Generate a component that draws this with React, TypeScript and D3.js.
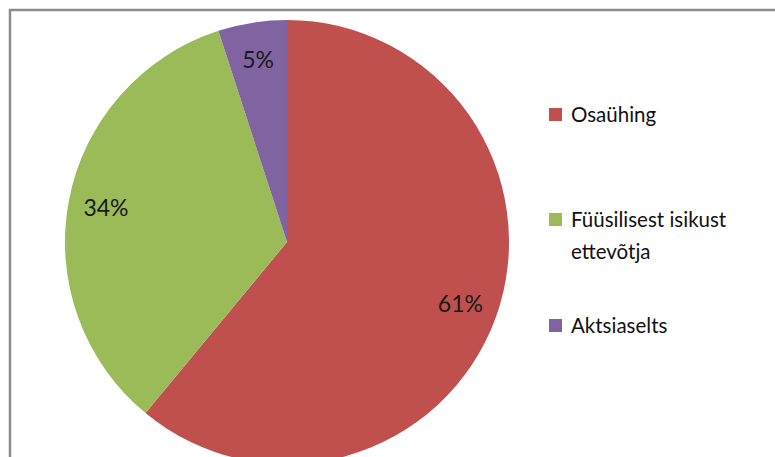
import React, { useEffect, useRef } from "react";
import * as d3 from "d3";

// data
const categories = ["Osaühing", "Füüsilisest isikust ettevõtja", "Aktsiaselts"];
const legendLines = [["Osaühing"], ["Füüsilisest isikust", "ettevõtja"], ["Aktsiaselts"]];
const values = [61, 34, 5];
const colors = ["#C0504D", "#9BBB59", "#8064A2"];

const W = 775;
const H = 457;

export default function App() {
  const ref = useRef<SVGSVGElement>(null);

  useEffect(() => {
    const svg = d3.select(ref.current);
    svg.selectAll("*").remove();

    // chart frame, right and bottom edges fall outside the picture
    svg.append("rect")
      .attr("x", 10).attr("y", 10)
      .attr("width", 900).attr("height", 600)
      .attr("fill", "#fff")
      .attr("stroke", "#8c8c8c")
      .attr("stroke-width", 2.5);

    const cx = 287, cy = 242, r = 222;
    const total = d3.sum(values);
    const pie = d3.pie<number>().sort(null).value(d => d);
    const arcs = pie(values);
    const arc = d3.arc<d3.PieArcDatum<number>>().innerRadius(0).outerRadius(r);
    const labelArc = d3.arc<d3.PieArcDatum<number>>().innerRadius(r * 0.83).outerRadius(r * 0.83);

    const g = svg.append("g").attr("transform", `translate(${cx},${cy})`);
    g.selectAll("path")
      .data(arcs)
      .enter()
      .append("path")
      .attr("d", arc)
      .attr("fill", (d, i) => colors[i]);

    g.selectAll("text")
      .data(arcs)
      .enter()
      .append("text")
      .attr("transform", d => {
        const [x, y] = labelArc.centroid(d);
        return `translate(${x},${y})`;
      })
      .attr("text-anchor", "middle")
      .attr("dy", "0.35em")
      .attr("font-family", "Lato, 'Open Sans', sans-serif")
      .attr("font-size", 23)
      .attr("fill", "#1a1a1a")
      .text(d => Math.round((d.data / total) * 100) + "%");

    // legend
    const legendY = [115, 220, 326];
    const leg = svg.append("g").attr("font-family", "Lato, 'Open Sans', sans-serif");
    categories.forEach((c, i) => {
      const item = leg.append("g").attr("transform", `translate(549,${legendY[i]})`);
      item.append("rect")
        .attr("x", 0).attr("y", -7)
        .attr("width", 13).attr("height", 13)
        .attr("fill", colors[i]);
      const t = item.append("text")
        .attr("x", 22).attr("y", 0)
        .attr("font-size", 20.5)
        .attr("fill", "#111");
      legendLines[i].forEach((line, j) => {
        t.append("tspan").attr("x", 22).attr("dy", j === 0 ? "0.35em" : 32).text(line);
      });
    });
  }, []);

  return (
    <svg
      ref={ref}
      width={W}
      height={H}
      style={{ position: "absolute", left: 0, top: 0, display: "block" }}
    />
  );
}
